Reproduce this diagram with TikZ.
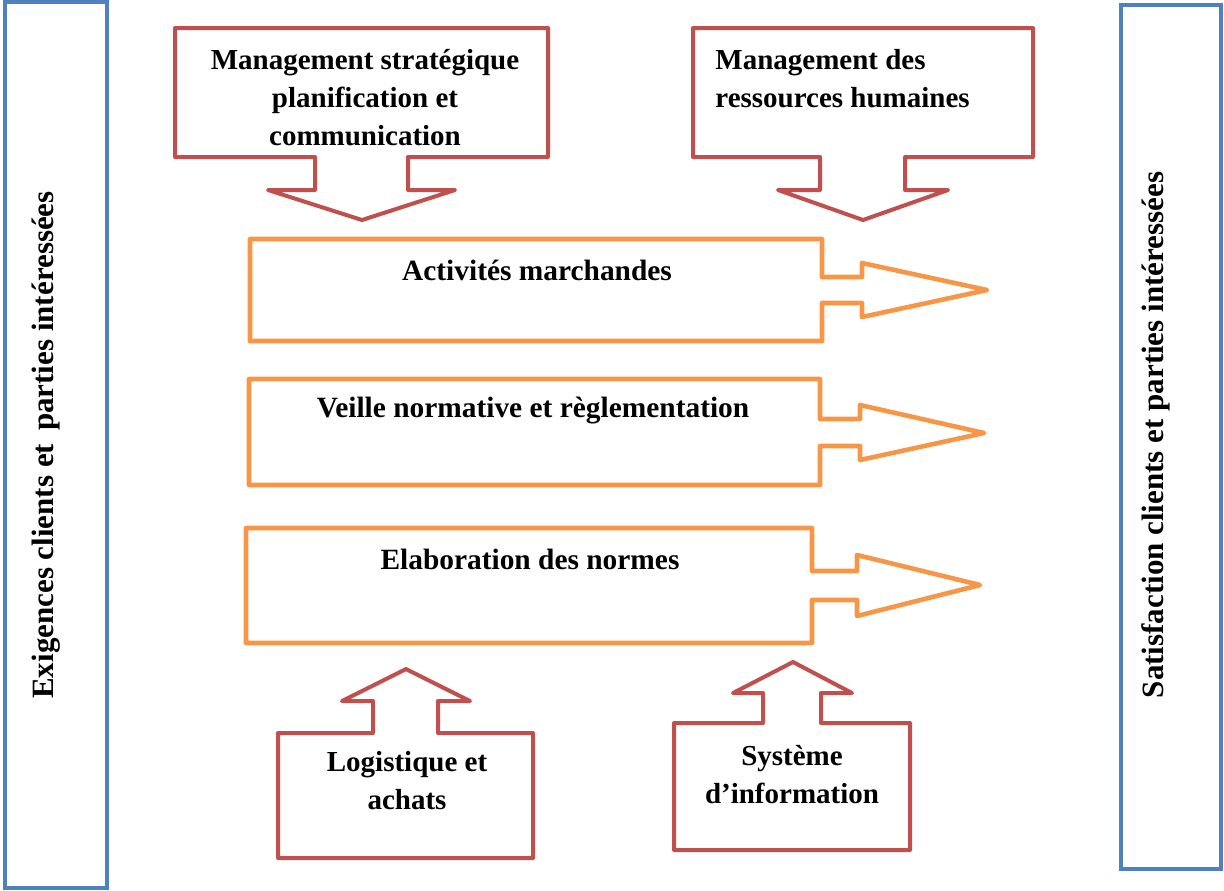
\documentclass[tikz,border=0pt]{standalone}
\usepackage{fontspec}
\setmainfont{Liberation Serif}
\definecolor{procred}{HTML}{C0504D}
\definecolor{procorange}{HTML}{F79646}
\definecolor{procblue}{HTML}{4F81BD}
\begin{document}
\begin{tikzpicture}[x=0.5pt,y=-0.5pt,
  support/.style={draw=procred, line width=2pt, line join=round, line cap=round},
  mainproc/.style={draw=procorange, line width=2.3pt, line join=round, line cap=round},
  party/.style={draw=procblue, line width=2pt},
  lbl/.style={inner sep=0pt, font=\fontsize{14.5}{19}\selectfont\bfseries, align=center},
  proclbl/.style={inner sep=0pt, font=\fontsize{14.7}{18}\selectfont\bfseries},
  sidelbl/.style={inner sep=0pt, rotate=90, font=\fontsize{15.5}{18}\selectfont\bfseries}
]
\useasboundingbox (0,0) rectangle (1224,890);

% interested parties on both sides
\draw[party] (5,2) rectangle (107,888);
\draw[party] (1121,5) rectangle (1221,869);
\node[sidelbl] (req) at (46,445) {Exigences clients et\, parties intéressées};
\node[sidelbl] (sat) at (1156,435) {Satisfaction clients et parties intéressées};

% management processes (callouts pointing down)
\draw[support] (175,28) -- (548,28) -- (548,157) -- (408,157) -- (408,190) -- (455,190)
  -- (362,220) -- (268,190) -- (315,190) -- (315,157) -- (175,157) -- cycle;
\node[lbl] (strat) at (365,98) {Management stratégique\\planification et\\communication};

\draw[support] (693,28) -- (1033,28) -- (1033,157) -- (905,157) -- (905,190) -- (948,190)
  -- (863,220) -- (778,190) -- (820,190) -- (820,157) -- (693,157) -- cycle;
\node[lbl, align=left, anchor=west] (rh) at (715,79) {Management des\\ressources humaines};

% core processes (callouts pointing right)
\draw[mainproc] (250,239) -- (822,239) -- (822,277) -- (862,277) -- (862,263) -- (987,290)
  -- (862,317) -- (862,303) -- (822,303) -- (822,341) -- (250,341) -- cycle;
\node[proclbl] (act) at (537,270) {Activités marchandes};

\draw[mainproc] (249,379) -- (820,379) -- (820,419) -- (860,419) -- (860,405) -- (984,433)
  -- (860,460) -- (860,446) -- (820,446) -- (820,485) -- (249,485) -- cycle;
\node[proclbl] (veille) at (533,411) {Veille normative et règlementation};

\draw[mainproc] (246,528) -- (812,528) -- (812,571) -- (857,571) -- (857,555) -- (980,585)
  -- (857,616) -- (857,600) -- (812,600) -- (812,643) -- (246,643) -- cycle;
\node[proclbl] (elab) at (530,559) {Elaboration des normes};

% support processes (callouts pointing up)
\draw[support] (278,733) -- (373,733) -- (373,701) -- (342,701) -- (406,669) -- (470,701)
  -- (438,701) -- (438,733) -- (533,733) -- (533,858) -- (278,858) -- cycle;
\node[lbl] (log) at (407,781) {Logistique et\\achats};

\draw[support] (674,723) -- (763,723) -- (763,693) -- (733,693) -- (793,662) -- (852,693)
  -- (821,693) -- (821,723) -- (910,723) -- (910,850) -- (674,850) -- cycle;
\node[lbl] (si) at (792,775) {Système\\d’information};
\end{tikzpicture}
\end{document}
